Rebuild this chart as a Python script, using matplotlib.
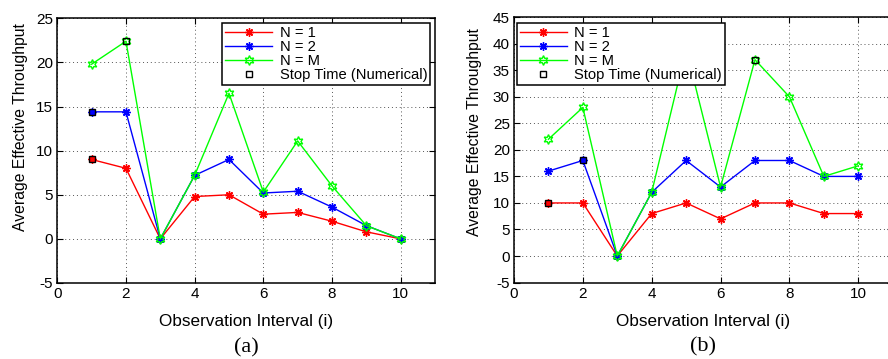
import matplotlib
matplotlib.use("Agg")
from matplotlib import pyplot as plt
import numpy as np

plt.rcParams['font.family'] = ['Liberation Sans', 'DejaVu Sans']
plt.rcParams['axes.unicode_minus'] = False

intervals = [1, 2, 3, 4, 5, 6, 7, 8, 9, 10]

# panel (a)
a_n1 = [9.0, 8.0, 0.0, 4.8, 5.0, 2.8, 3.0, 2.0, 0.8, 0.0]
a_n2 = [14.4, 14.4, 0.0, 7.2, 9.0, 5.2, 5.4, 3.6, 1.5, 0.0]
a_nm = [19.8, 22.4, 0.0, 7.2, 16.5, 5.3, 11.1, 6.0, 1.5, 0.0]
a_stop_x = [1, 1, 2]
a_stop_y = [9.0, 14.4, 22.4]

# panel (b)
b_n1 = [10, 10, 0, 8, 10, 7, 10, 10, 8, 8]
b_n2 = [16, 18, 0, 12, 18, 13, 18, 18, 15, 15]
b_nm = [22, 28, 0, 12, 39, 13, 37, 30, 15, 17]
b_stop_x = [1, 2, 7]
b_stop_y = [10, 18, 37]

labels = ["N = 1", "N = 2", "N = M", "Stop Time (Numerical)"]

asterisk = (8, 2, 0)
hexagram = (6, 1, 0)


def draw_panel(ax, n1, n2, nm, sx, sy, ymax, tag, ylab_xy,
               legend_loc, legend_anchor):
    ax.plot(intervals, n1, "-", color=(1, 0, 0), lw=1, marker=asterisk,
            ms=6, mew=1, label=labels[0])
    ax.plot(intervals, n2, "-", color=(0, 0, 1), lw=1, marker=asterisk,
            ms=6, mew=1, label=labels[1])
    ax.plot(intervals, nm, "-", color=(0, 1, 0), lw=1, marker=hexagram, ms=7,
            mfc="none", mew=1, label=labels[2])
    ax.plot(sx, sy, "s", color="k", ms=5, mfc="none", mew=1, label=labels[3])

    ax.set_xlim(0, 11)
    ax.set_ylim(-5, ymax)
    ax.set_xticks(np.arange(0, 11, 2))
    ax.set_yticks(np.arange(-5, ymax + 1, 5))
    ax.grid(True, linestyle=(0, (1, 3)), color="#555555", lw=0.7)
    ax.tick_params(direction="in", top=True, right=True, length=4,
                   labelsize=11, pad=3)
    for s in ax.spines.values():
        s.set_linewidth(1.1)
    ax.set_xlabel("Observation Interval (i)", fontsize=12.3, labelpad=9.5)
    ax.set_ylabel("Average Effective Throughput", fontsize=11.3,
                  family=["Liberation Sans Narrow", "Liberation Sans"])
    ax.yaxis.set_label_coords(*ylab_xy)
    ax.text(0.5, -0.207, tag, transform=ax.transAxes, ha="center", va="top",
            fontsize=16, family="Liberation Serif")

    leg = ax.legend(loc=legend_loc, bbox_to_anchor=legend_anchor,
                    borderaxespad=0, fancybox=False, framealpha=1,
                    edgecolor="k", fontsize=10.6, handlelength=3.2,
                    labelspacing=0.0, borderpad=0.2, handletextpad=0.5)
    leg.get_frame().set_linewidth(1.1)


fig = plt.figure(figsize=(8.88, 3.59), dpi=100)
ax_a = fig.add_axes([0.0645, 0.2117, 0.4254, 0.7373])
ax_b = fig.add_axes([0.5788, 0.213, 0.4265, 0.739])

draw_panel(ax_a, a_n1, a_n2, a_nm, a_stop_x, a_stop_y, 25, "(a)",
           (-0.0776, 0.59), "upper right", (0.987, 0.981))
draw_panel(ax_b, b_n1, b_n2, b_nm, b_stop_x, b_stop_y, 45, "(b)",
           (-0.0845, 0.566), "upper left", (0.007, 0.977))

fig.savefig("out.png", dpi=100)
